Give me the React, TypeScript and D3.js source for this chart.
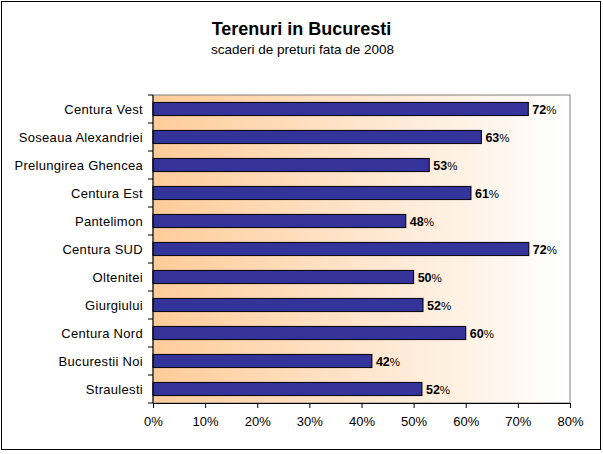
import * as d3 from "d3";
import React, {useEffect, useRef} from "react";

const categories = [
  "Centura Vest", "Soseaua Alexandriei", "Prelungirea Ghencea", "Centura Est",
  "Pantelimon", "Centura SUD", "Oltenitei", "Giurgiului", "Centura Nord",
  "Bucurestii Noi", "Straulesti",
];
const values = [72, 63, 53, 61, 48.5, 72.1, 50, 51.8, 60, 42, 51.6];
const labels = ["72", "63", "53", "61", "48", "72", "50", "52", "60", "42", "52"];
const xTicks = [0, 10, 20, 30, 40, 50, 60, 70, 80];

const App: React.FC = () => {
  const ref = useRef<SVGSVGElement | null>(null);

  useEffect(() => {
    const svg = d3.select(ref.current);
    svg.selectAll('*').remove();
    const width = 603;
    const height = 454;
    const margin = {top: 95, right: 33, bottom: 51, left: 153};
    const font = "'Liberation Sans', Arial, sans-serif";

    svg.attr("width", width).attr("height", height)
      .style("position", "absolute").style("left", "0px").style("top", "0px");

    const defs = svg.append("defs");
    const grad = defs.append("linearGradient").attr("id", "bg-grad")
      .attr("x1", "0%").attr("x2", "100%").attr("y1", "0%").attr("y2", "0%");
    grad.append("stop").attr("offset", "0%").attr("stop-color", "#ffcc99");
    grad.append("stop").attr("offset", "100%").attr("stop-color", "#ffffff");

    // outer frame
    svg.append("rect")
      .attr("x", 1.5).attr("y", 1.5)
      .attr("width", width - 4).attr("height", height - 6)
      .attr("fill", "#fff").attr("stroke", "#000").attr("stroke-width", 1);

    const xScale = d3.scaleLinear()
      .domain([0, 80])
      .range([margin.left, width - margin.right]);

    const yScale = d3.scaleBand()
      .domain(categories)
      .range([margin.top, height - margin.bottom])
      .paddingInner(0.53)
      .paddingOuter(0.265);

    // plot area
    svg.append("rect")
      .attr("x", xScale(0)).attr("y", margin.top)
      .attr("width", xScale(80) - xScale(0))
      .attr("height", height - margin.bottom - margin.top)
      .attr("fill", "url(#bg-grad)")
      .attr("stroke", "#808080").attr("stroke-width", 1);

    // bars
    const groups = svg.selectAll(".bar-group")
      .data(categories)
      .enter()
      .append("g")
      .attr("class", "bar-group");

    groups.append("rect")
      .attr("x", xScale(0))
      .attr("y", (d) => yScale(d)!)
      .attr("width", (_, i) => xScale(values[i]) - xScale(0))
      .attr("height", yScale.bandwidth())
      .attr("fill", "#333399")
      .attr("stroke", "#000")
      .attr("stroke-width", 1);

    const lbl = groups.append("text")
      .attr("x", (_, i) => xScale(values[i]) + 4)
      .attr("y", (d) => yScale(d)! + yScale.bandwidth() / 2 + 4.5)
      .style("font-family", font)
      .style("font-size", "12.5px")
      .attr("fill", "#000");
    lbl.append("tspan").style("font-weight", "bold").text((_, i) => labels[i]);
    lbl.append("tspan").style("font-size", "11.5px").text("%");

    // y axis
    const yAxis = svg.append("g")
      .attr("transform", `translate(${xScale(0)}, 0)`);
    yAxis.append("line")
      .attr("x1", 0).attr("x2", 0)
      .attr("y1", margin.top).attr("y2", height - margin.bottom)
      .attr("stroke", "#000");
    const bounds = d3.range(categories.length + 1).map((i) => margin.top + i * ((height - margin.bottom - margin.top) / categories.length));
    yAxis.selectAll(".ytick").data(bounds).enter().append("line")
      .attr("x1", -5).attr("x2", 0)
      .attr("y1", (d) => d).attr("y2", (d) => d)
      .attr("stroke", "#000");
    yAxis.selectAll(".ylabel").data(categories).enter().append("text")
      .attr("x", -10)
      .attr("y", (d) => yScale(d)! + yScale.bandwidth() / 2 + 5)
      .attr("text-anchor", "end")
      .style("font-family", font)
      .style("font-size", "13px")
      .style("letter-spacing", "0.3px")
      .text((d) => d);

    // x axis
    const xAxis = svg.append("g")
      .attr("transform", `translate(0, ${height - margin.bottom})`)
      .call(d3.axisBottom(xScale).tickValues(xTicks).tickSize(5).tickSizeOuter(0)
        .tickFormat((d) => `${d}%`));
    xAxis.select(".domain").attr("stroke", "#000");
    xAxis.selectAll(".tick line").attr("stroke", "#000");
    xAxis.selectAll(".tick text")
      .attr("dy", "0")
      .attr("y", 23)
      .style("font-family", font)
      .style("font-size", "13px")
      .attr("fill", "#000");

    // titles
    svg.append("text")
      .attr("x", width / 2).attr("y", 35)
      .attr("text-anchor", "middle")
      .style("font-family", font)
      .style("font-size", "18px")
      .style("font-weight", "bold")
      .text("Terenuri in Bucuresti");
    svg.append("text")
      .attr("x", width / 2 + 1).attr("y", 54)
      .attr("text-anchor", "middle")
      .style("font-family", font)
      .style("font-size", "13.5px")
      .text("scaderi de preturi fata de 2008");

    return () => {
      svg.selectAll('*').remove();
    };
  }, []);

  return <svg ref={ref}/>;
};

export default App;
